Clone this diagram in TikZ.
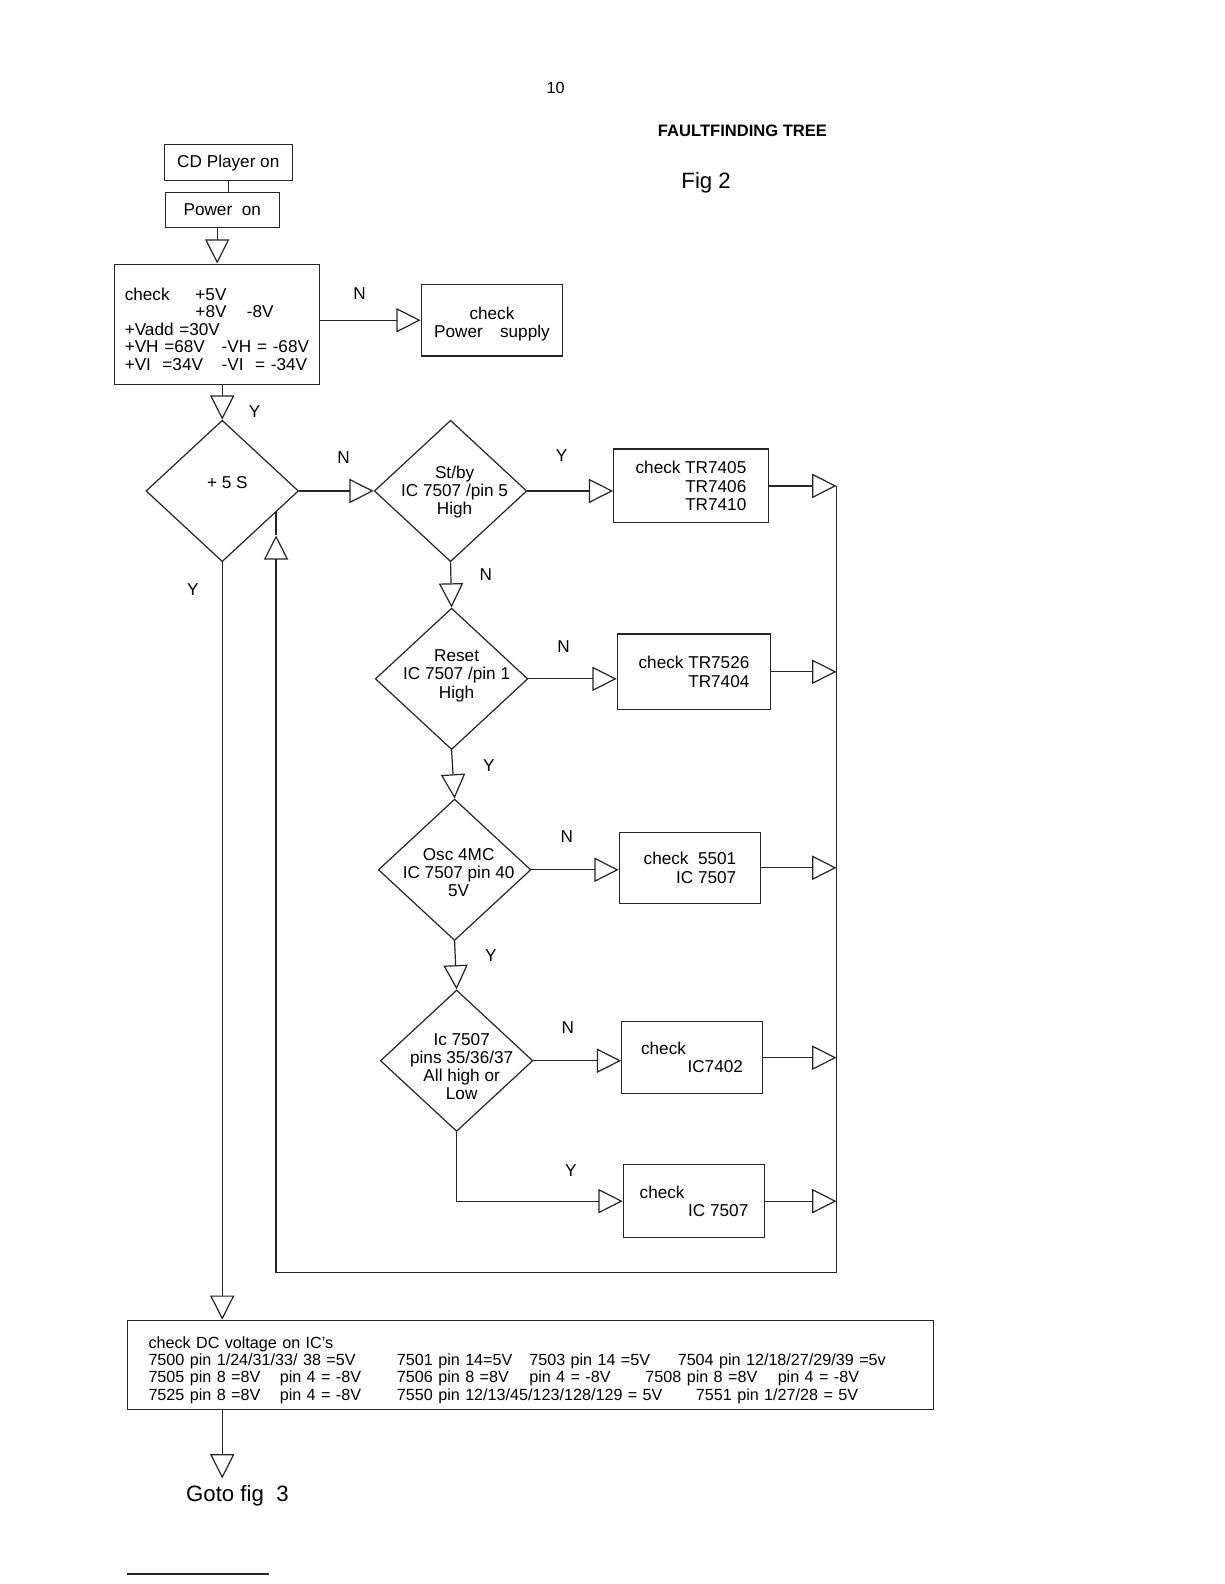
\documentclass[tikz,border=0pt]{standalone}
\usepackage{fontspec}
\setmainfont{Liberation Sans}
\usetikzlibrary{shapes,arrows.meta,positioning,calc}
\newcommand{\flowfont}{\fontsize{8.5}{9}\selectfont}
\newcommand{\dcfont}{\fontsize{8}{8.6}\selectfont}

\begin{document}
\begin{tikzpicture}[
    x=0.5pt, y=-0.5pt,
    line width=0.6pt,
    box/.style={rectangle, draw=black!85, inner sep=2pt, align=center, font=\flowfont},
    dec/.style={diamond, draw=black!85, minimum width=75.5pt, minimum height=70pt, inner sep=0pt},
    txt/.style={font=\flowfont, align=center, inner sep=0pt},
    yn/.style={font=\flowfont, inner sep=0pt},
    flow/.style={draw=black!85, -{Triangle[open, length=12pt, width=12pt]}}
  ]
  \useasboundingbox (0,0) rectangle (1212,1568);
  \fill[white] (0,0) rectangle (1212,1568);

  % Header
  \node[font=\fontsize{8}{9}\selectfont] (pg) at (550,87) {10};
  \node[font=\fontsize{8.2}{9}\selectfont\bfseries] (ttl) at (735,129) {FAULTFINDING TREE};
  \node[font=\fontsize{11}{12}\selectfont] (fig) at (699,181) {Fig 2};

  % Start
  \node[box, minimum width=63.5pt, minimum height=18pt] (cd) at (226,161) {CD Player on};
  \node[box, minimum width=56.5pt, minimum height=17.5pt] (pw) at (220,208) {Power\ \ on};
  \node[box, minimum width=101.5pt, minimum height=59.5pt, align=left, text width=91.5pt, inner xsep=5pt,
        font=\fontsize{8.5}{8.6}\selectfont] (chk) at (215,321) {%
    \rule{0pt}{11pt}\makebox[35pt][l]{check}+5V\\
    \hspace*{35pt}\makebox[25.5pt][l]{+8V}-8V\\
    +Vadd =30V\\
    \makebox[48pt][l]{+VH =68V}-VH = -68V\\
    \makebox[48pt][l]{+VI\ \ =34V}-VI\ \ = -34V};
  \node[box, minimum width=70pt, minimum height=35.5pt] (ps) at (487,317) {\rule{0pt}{10pt}check\\Power\quad supply};

  % Decisions
  \node[dec] (s5) at (220,486) {};
  \node[txt] (s5t) at (225,478) {+ 5 S};
  \node[dec] (sb) at (446,486) {};
  \node[txt] (sbt) at (450,487) {St/by\\IC 7507 /pin 5\\High};
  \node[dec] (rs) at (447,672) {};
  \node[txt] (rst) at (452,669) {Reset\\IC 7507 /pin 1\\High};
  \node[dec] (os) at (450,861) {};
  \node[txt] (ost) at (454,864) {Osc 4MC\\IC 7507 pin 40\\5V};
  \node[dec] (ic) at (452,1050) {};
  \node[txt] (ict) at (457,1056) {Ic 7507\\pins 35/36/37\\All high or\\Low};

  % Checks
  \node[box, minimum width=76.5pt, minimum height=36.5pt, align=right] (tr1) at (684,481) {check TR7405\\TR7406\\TR7410};
  \node[box, minimum width=76pt, minimum height=37.5pt, align=right] (tr2) at (687,665) {check TR7526\\TR7404};
  \node[box, minimum width=70pt, minimum height=35pt, align=right] (c3) at (683,859) {check\ \ 5501\\IC 7507};
  \node[box, minimum width=69.5pt, minimum height=35.5pt, align=left] (c4) at (685,1047) {check\\\hspace*{23pt}IC7402};
  \node[box, minimum width=70pt, minimum height=36pt, align=left] (c5) at (687,1189) {check\\\hspace*{24pt}IC 7507};

  \node[box, minimum width=399pt, minimum height=44pt, align=left, text width=378pt, inner xsep=10.5pt, font=\dcfont] (dc) at (525,1351) {%
    \rule{0pt}{11pt}check DC voltage on IC's\\
    \makebox[123pt][l]{7500 pin 1/24/31/33/ 38 =5V}\makebox[65.5pt][l]{7501 pin 14=5V}\makebox[73.5pt][l]{7503 pin 14 =5V}7504 pin 12/18/27/29/39 =5v\\
    \makebox[65pt][l]{7505 pin 8 =8V}\makebox[58pt][l]{pin 4 = -8V}\makebox[65.5pt][l]{7506 pin 8 =8V}\makebox[57.5pt][l]{pin 4 = -8V}\makebox[65.5pt][l]{7508 pin 8 =8V}pin 4 = -8V\\
    \makebox[65pt][l]{7525 pin 8 =8V}\makebox[58pt][l]{pin 4 = -8V}\makebox[148pt][l]{7550 pin 12/13/45/123/128/129 = 5V}7551 pin 1/27/28 = 5V};
  \node[font=\fontsize{11}{12}\selectfont] (goto) at (235,1481) {Goto fig\ \ 3};

  % Connectors
  \draw[draw=black!85] (cd) -- (cd |- pw.north);
  \draw[flow] (chk.north |- pw.south) -- (chk.north);
  \draw[flow] (chk.east |- ps.west) -- (ps.west);
  \draw[flow] (chk.south -| s5.north) -- (s5.north);
  \draw[flow] (s5.east) -- (sb.west);
  \draw[flow] (sb.east) -- (sb.east -| tr1.west);
  \draw[flow] (sb.south) -- (rs.north);
  \draw[flow] (rs.east) -- (rs.east -| tr2.west);
  \draw[flow] (rs.south) -- (os.north);
  \draw[flow] (os.east) -- (os.east -| c3.west);
  \draw[flow] (os.south) -- (ic.north);
  \draw[flow] (ic.east) -- (ic.east -| c4.west);
  \draw[flow] (ic.south) |- (c5.west);
  \draw[flow] (s5.south) -- (s5.south |- dc.north);
  \draw[flow] (s5.south |- dc.south) -- (s5.south |- goto.north);

  % Return line
  \coordinate (rtop) at (828,481);
  \coordinate (rbot) at (828,1260);
  \foreach \b in {tr1,tr2,c3,c4,c5}
    \draw[flow] (\b.east) -- (\b.east -| rtop);
  \coordinate (ret) at ($(s5.east)!0.3!(s5.south)$);
  \draw[draw=black!85] (rtop) -- (rbot) -- (rbot -| ret) coordinate (lbot);
  \draw[flow] (lbot) -- (lbot |- 0,530) coordinate (lup);
  \draw[draw=black!85] (lup) -- (ret);

  % Y / N
  \node[yn] (n1) at (356,291) {N};
  \node[yn] (y1) at (252,407) {Y};
  \node[yn] (n2) at (340,453) {N};
  \node[yn] (y2) at (556,451) {Y};
  \node[yn] (y3) at (191,584) {Y};
  \node[yn] (n3) at (481,569) {N};
  \node[yn] (n4) at (558,640) {N};
  \node[yn] (y4) at (484,758) {Y};
  \node[yn] (n5) at (561,828) {N};
  \node[yn] (y5) at (486,946) {Y};
  \node[yn] (n6) at (562,1017) {N};
  \node[yn] (y6) at (565,1159) {Y};

  \draw[draw=black!85] (126,1558) -- (266,1558);
\end{tikzpicture}
\end{document}
